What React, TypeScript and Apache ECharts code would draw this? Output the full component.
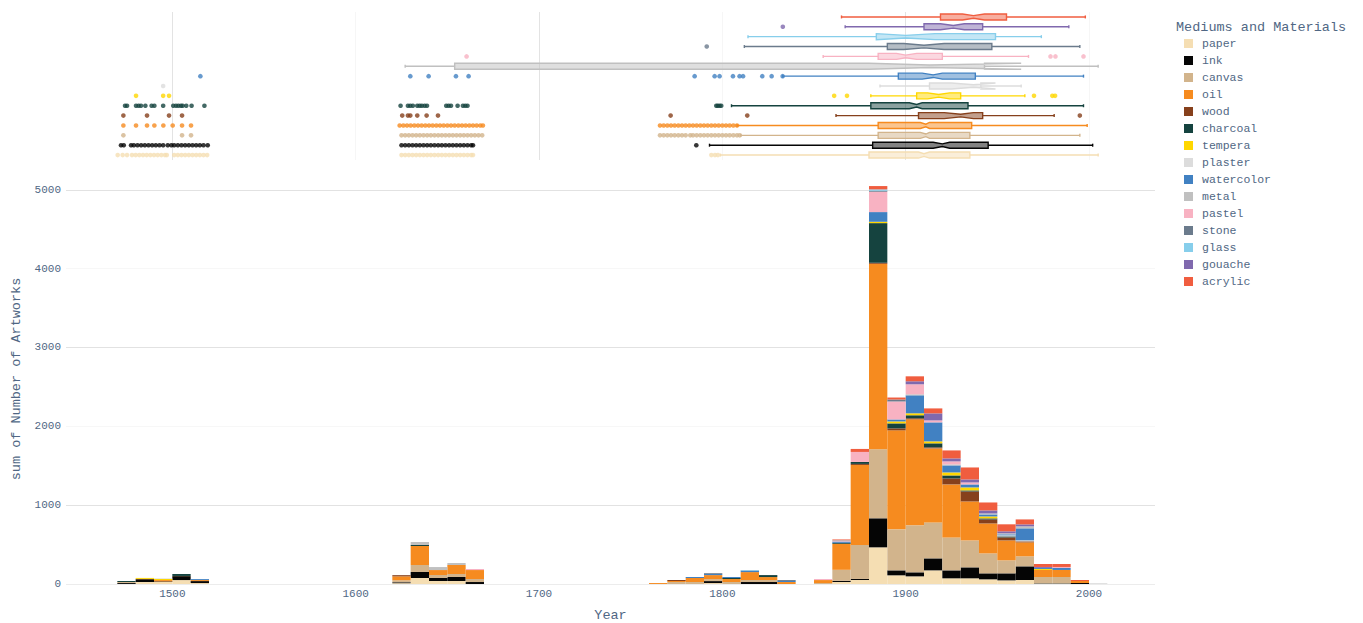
import React, { useEffect, useRef } from 'react';
import * as echarts from 'echarts';

const MEDIA = ['paper', 'ink', 'canvas', 'oil', 'wood', 'charcoal', 'tempera', 'plaster', 'watercolor', 'metal', 'pastel', 'stone', 'glass', 'gouache', 'acrylic'];
const COLORS = ['#F5DEB3', '#050505', '#D2B48C', '#F68B1F', '#86401C', '#15433F', '#FFD700', '#DCDCDC', '#4181C2', '#C0C0C0', '#F8B2C2', '#6B7B8C', '#87CEEB', '#8069AE', '#F05D3F'];

const BIN_WIDTH = 10;
const BIN_STARTS = [1470, 1480, 1490, 1500, 1510, 1620, 1630, 1640, 1650, 1660, 1760, 1770, 1780, 1790, 1800, 1810, 1820, 1830, 1850, 1860, 1870, 1880, 1890, 1900, 1910, 1920, 1930, 1940, 1950, 1960, 1970, 1980, 1990, 2000];

const paper = [0, 25, 25, 50, 12, 10, 76, 38, 38, 0, 0, 0, 0, 12, 0, 0, 0, 0, 0, 25, 51, 465, 110, 97, 173, 72, 72, 59, 46, 51, 8, 8, 0, 0];
const ink = [12, 36, 8, 50, 25, 12, 76, 38, 51, 25, 0, 0, 0, 25, 0, 25, 25, 0, 0, 15, 13, 368, 63, 51, 152, 101, 139, 76, 89, 173, 5, 5, 13, 0];
const canvas = [13, 0, 0, 0, 0, 25, 89, 38, 38, 38, 0, 25, 25, 25, 25, 25, 25, 0, 12, 140, 431, 876, 520, 596, 456, 418, 342, 253, 165, 127, 76, 76, 0, 0];
const oil = [0, 4, 17, 2, 13, 50, 241, 63, 114, 114, 12, 13, 51, 51, 38, 101, 38, 25, 38, 330, 1015, 2352, 1256, 1345, 939, 672, 494, 380, 253, 177, 89, 89, 25, 0];
const wood = [0, 0, 0, 0, 0, 15, 0, 0, 0, 0, 0, 13, 0, 0, 0, 0, 0, 0, 0, 0, 13, 13, 25, 13, 13, 76, 127, 51, 38, 13, 0, 0, 0, 0];
const charcoal = [13, 0, 0, 25, 0, 0, 13, 0, 0, 0, 0, 0, 0, 0, 13, 0, 25, 0, 0, 12, 25, 503, 63, 38, 51, 38, 13, 13, 13, 0, 0, 0, 0, 0];
const tempera = [0, 12, 14, 0, 0, 0, 0, 0, 0, 0, 0, 0, 0, 0, 0, 0, 0, 0, 0, 0, 0, 17, 25, 25, 25, 38, 38, 25, 0, 0, 13, 0, 0, 0];
const plaster = [0, 0, 8, 0, 0, 0, 0, 0, 0, 0, 0, 0, 0, 0, 0, 0, 0, 0, 0, 0, 0, 0, 0, 0, 0, 0, 0, 0, 13, 13, 0, 0, 0, 0];
const watercolor = [0, 0, 0, 0, 12, 0, 0, 0, 0, 0, 0, 0, 13, 15, 13, 20, 0, 13, 0, 17, 0, 123, 25, 228, 241, 89, 38, 25, 13, 152, 13, 25, 0, 0];
const metal = [0, 0, 0, 0, 0, 0, 38, 38, 25, 0, 0, 0, 0, 0, 0, 0, 0, 0, 0, 0, 0, 0, 0, 13, 0, 13, 0, 13, 13, 25, 0, 0, 0, 6];
const pastel = [0, 0, 0, 0, 0, 0, 0, 0, 0, 13, 0, 0, 0, 0, 0, 0, 0, 0, 13, 6, 127, 258, 228, 127, 25, 38, 25, 0, 0, 0, 0, 13, 0, 0];
const stone = [0, 0, 0, 0, 0, 0, 0, 0, 0, 0, 0, 0, 0, 10, 0, 0, 0, 12, 0, 0, 0, 13, 25, 0, 0, 0, 0, 0, 0, 0, 0, 0, 0, 0];
const glass = [0, 0, 0, 0, 0, 0, 0, 0, 0, 0, 0, 0, 0, 0, 0, 6, 0, 0, 0, 8, 0, 17, 0, 0, 0, 0, 0, 0, 0, 0, 0, 0, 0, 0];
const gouache = [0, 0, 0, 0, 0, 0, 0, 0, 0, 0, 0, 0, 0, 0, 0, 0, 0, 0, 0, 0, 0, 0, 0, 38, 89, 38, 38, 38, 25, 25, 12, 0, 0, 0];
const acrylic = [0, 0, 0, 0, 0, 0, 0, 0, 0, 0, 0, 0, 0, 0, 0, 0, 0, 0, 0, 12, 38, 42, 25, 63, 63, 101, 152, 101, 89, 63, 38, 38, 13, 0];
const COUNTS = [paper, ink, canvas, oil, wood, charcoal, tempera, plaster, watercolor, metal, pastel, stone, glass, gouache, acrylic];

// box stats: [min, q1, median, q3, max, notchLow, notchHigh]
const paperBox = [1799, 1880, 1910, 1935, 2005, 1907, 1913];
const inkBox = [1793, 1882, 1920, 1945, 2002, 1915, 1924];
const canvasBox = [1810, 1885, 1911, 1935, 1995, 1908, 1913];
const oilBox = [1808, 1885, 1911, 1936, 1999, 1908, 1913];
const woodBox = [1862, 1907, 1930, 1942, 1981, 1921, 1937];
const charcoalBox = [1805, 1881, 1906, 1934, 1997, 1902, 1909];
const temperaBox = [1881, 1906, 1918, 1930, 1965, 1912, 1924];
const plasterBox = [1886, 1913, 1937, 1941, 1963, 1925, 1949];
const watercolorBox = [1833, 1896, 1915, 1938, 1997, 1909, 1920];
const metalBox = [1627, 1654, 1913, 1943, 2005, 1880, 1963];
const pastelBox = [1855, 1885, 1900, 1920, 1967, 1895, 1906];
const stoneBox = [1812, 1890, 1910, 1947, 1995, 1899, 1921];
const glassBox = [1814, 1884, 1900, 1949, 1974, 1884, 1916];
const gouacheBox = [1867, 1910, 1926, 1942, 1989, 1919, 1932];
const acrylicBox = [1865, 1919, 1937, 1955, 1998, 1931, 1943];
const BOXES = [paperBox, inkBox, canvasBox, oilBox, woodBox, charcoalBox, temperaBox, plasterBox, watercolorBox, metalBox, pastelBox, stoneBox, glassBox, gouacheBox, acrylicBox];

// outliers (years)
const paperOut = [1470.2, 1472.9, 1475.3, 1478, 1480, 1482, 1484, 1486, 1488, 1490, 1492, 1494, 1496, 1497, 1501, 1503, 1505, 1507, 1509, 1511, 1513, 1515, 1517, 1519, 1625, 1627, 1629, 1631, 1633, 1635, 1637, 1639, 1641, 1643, 1645, 1647, 1649, 1651, 1653, 1655, 1657, 1659, 1661, 1663, 1664, 1794, 1796, 1797.6];
const inkOut = [1472, 1473.5, 1477.5, 1479, 1481, 1483, 1485, 1487, 1489, 1491, 1493, 1495, 1497.5, 1499.5, 1501, 1503, 1505, 1507, 1509, 1511, 1513, 1515, 1517, 1519.3, 1625, 1627, 1629, 1631, 1633, 1635, 1637, 1639, 1641, 1643, 1645, 1647, 1649, 1651, 1653, 1655, 1657, 1659, 1661, 1663, 1664, 1785.8];
const canvasOut = [1473.3, 1505.3, 1510.2, 1625, 1627, 1629, 1631, 1633, 1635, 1637, 1639, 1641, 1643, 1645, 1647, 1649, 1651, 1653, 1655, 1657, 1659, 1661, 1663, 1665, 1667, 1669, 1766, 1768, 1770, 1772, 1774, 1776, 1778, 1780, 1782.5, 1784, 1786, 1788, 1790, 1792, 1794, 1796, 1798, 1800, 1802, 1804, 1806, 1808, 1809.5];
const oilOut = [1473.3, 1480.2, 1486.2, 1490.2, 1495.1, 1500.2, 1505.3, 1510.2, 1624, 1626, 1628, 1630, 1632, 1634, 1636, 1638, 1640, 1642, 1644, 1646, 1648, 1650, 1652, 1654, 1656, 1658, 1660, 1662, 1664, 1666, 1668, 1669.4, 1766, 1768, 1770, 1772, 1774, 1776, 1778, 1780, 1782, 1784, 1786, 1788, 1790, 1792, 1794, 1796, 1798, 1800, 1802, 1804, 1806, 1808];
const woodOut = [1473.3, 1486.2, 1498.2, 1505.3, 1625.4, 1628.5, 1629.8, 1633.6, 1638.7, 1644.9, 1771.8, 1813.6, 1995];
const charcoalOut = [1474.2, 1475.3, 1480.2, 1481.6, 1482.9, 1485.3, 1488.7, 1490.2, 1495, 1500.5, 1502, 1503.3, 1504.7, 1505.6, 1507.6, 1510.5, 1517.5, 1624.5, 1628.5, 1629.8, 1631.2, 1633.6, 1634.9, 1636.1, 1637.6, 1638.9, 1649.4, 1650.7, 1652, 1655.6, 1658.5, 1659.8, 1661, 1796.7, 1797.5, 1798.5, 1799.4];
const temperaOut = [1480.2, 1495, 1498.2, 1861, 1868, 1970, 1980, 1981.5];
const plasterOut = [1495];
const watercolorOut = [1515.3, 1629.8, 1639.8, 1654.7, 1661.6, 1784.9, 1795.8, 1798.5, 1805.8, 1809.4, 1811.3, 1821.8, 1826.9, 1832.9];
const metalOut: number[] = [];
const pastelOut = [1660.5, 1979, 1981.7, 1997];
const stoneOut = [1791.5];
const glassOut: number[] = [];
const gouacheOut = [1833];
const acrylicOut: number[] = [];
const OUTLIERS = [paperOut, inkOut, canvasOut, oilOut, woodOut, charcoalOut, temperaOut, plasterOut, watercolorOut, metalOut, pastelOut, stoneOut, glassOut, gouacheOut, acrylicOut];

const Y_TICKS_MAX = 5200;
const X_MIN = 1442;
const X_MAX = 2036;
const X_LABELS = [1500, 1600, 1700, 1800, 1900, 2000];

const FONT = "'Courier New', 'Liberation Mono', monospace";
const TXT = '#506784';

function hexToRgba(hex: string, a: number) {
  const n = parseInt(hex.slice(1), 16);
  return `rgba(${(n >> 16) & 255},${(n >> 8) & 255},${n & 255},${a})`;
}

function buildOption() {
  const series: any[] = [];
  const bases = BIN_STARTS.map(() => 0);
  MEDIA.forEach((name, m) => {
    const data: number[][] = [];
    COUNTS[m].forEach((v, i) => {
      if (v > 0) {
        data.push([BIN_STARTS[i], bases[i] + v, bases[i]]);
        bases[i] += v;
      }
    });
    series.push({
      type: 'custom',
      name,
      xAxisIndex: 0,
      yAxisIndex: 0,
      itemStyle: { color: COLORS[m] },
      encode: { x: 0, y: [1, 2] },
      data,
      renderItem: (params: any, api: any) => {
        const x0 = api.value(0);
        const top = api.value(1);
        const base = api.value(2);
        const p0 = api.coord([x0, top]);
        const p1 = api.coord([x0 + BIN_WIDTH, base]);
        return {
          type: 'rect',
          shape: { x: p0[0], y: p0[1], width: p1[0] - p0[0], height: p1[1] - p0[1] },
          style: { fill: COLORS[m] },
        };
      },
    });
  });

  const boxData = BOXES.map((b, m) => [b[0], m, b[1], b[2], b[3], b[4], b[5], b[6]]);
  series.push({
    type: 'custom',
    name: 'boxes',
    xAxisIndex: 1,
    yAxisIndex: 1,
    encode: { x: [0, 2, 3, 4, 5], y: 1 },
    data: boxData,
    renderItem: (params: any, api: any) => {
      const cat = api.value(1);
      const m = params.dataIndex;
      const col = COLORS[m];
      const c = (v: number) => api.coord([v, cat]);
      const pMin = c(api.value(0));
      const pQ1 = c(api.value(2));
      const pMed = c(api.value(3));
      const pQ3 = c(api.value(4));
      const pMax = c(api.value(5));
      const pNl = c(api.value(6));
      const pNh = c(api.value(7));
      const y = pMed[1];
      const h = 3;
      const inset = 1.7;
      const lw = 1.4;
      return {
        type: 'group',
        children: [
          { type: 'line', shape: { x1: pMin[0], y1: y, x2: pQ1[0], y2: y }, style: { stroke: col, lineWidth: lw } },
          { type: 'line', shape: { x1: pQ3[0], y1: y, x2: pMax[0], y2: y }, style: { stroke: col, lineWidth: lw } },
          { type: 'line', shape: { x1: pMin[0], y1: y - 1.5, x2: pMin[0], y2: y + 1.5 }, style: { stroke: col, lineWidth: lw } },
          { type: 'line', shape: { x1: pMax[0], y1: y - 1.5, x2: pMax[0], y2: y + 1.5 }, style: { stroke: col, lineWidth: lw } },
          {
            type: 'polygon',
            shape: {
              points: [
                [pQ1[0], y - h], [pNl[0], y - h], [pMed[0], y - h + inset], [pNh[0], y - h], [pQ3[0], y - h],
                [pQ3[0], y + h], [pNh[0], y + h], [pMed[0], y + h - inset], [pNl[0], y + h], [pQ1[0], y + h],
              ],
            },
            style: { fill: hexToRgba(col, 0.5), stroke: col, lineWidth: lw },
          },
        ],
      };
    },
  });

  const outData: any[] = [];
  OUTLIERS.forEach((arr, m) => {
    arr.forEach((yr) => {
      outData.push({ value: [yr, m], itemStyle: { color: COLORS[m] } });
    });
  });
  series.push({
    type: 'scatter',
    name: 'outliers',
    xAxisIndex: 1,
    yAxisIndex: 1,
    symbol: 'circle',
    symbolSize: 4.6,
    data: outData,
    silent: true,
    markLine: {
      silent: true,
      symbol: ['none', 'none'],
      label: { show: false },
      z: 0,
      data: X_LABELS.map((v, i) => ({
        xAxis: v,
        lineStyle: { color: i % 2 === 0 ? '#e3e3e3' : '#f6f6f6', width: 1, type: 'solid' },
      })),
    },
  });

  return {
    animation: false,
    backgroundColor: '#ffffff',
    title: {
      text: 'Mediums and Materials',
      left: 1176,
      top: 20,
      padding: 0,
      textStyle: { fontFamily: FONT, fontSize: 13.5, fontWeight: 'normal', color: TXT },
    },
    legend: {
      data: MEDIA.map((name) => ({ name, icon: 'rect' })),
      orient: 'vertical',
      left: 1184,
      top: 37,
      padding: 0,
      itemWidth: 9,
      itemHeight: 9,
      itemGap: 4,
      selectedMode: false,
      textStyle: { fontFamily: FONT, fontSize: 11.5, lineHeight: 13, color: TXT, padding: [0, 0, 0, 4] },
    },
    grid: [
      { left: 66, right: 208, top: 174, bottom: 39, outerBoundsMode: 'none', containLabel: false },
      { left: 66, right: 208, top: 12, height: 148, outerBoundsMode: 'none', containLabel: false },
    ],
    xAxis: [
      {
        type: 'value',
        gridIndex: 0,
        min: X_MIN,
        max: X_MAX,
        name: 'Year',
        nameLocation: 'middle',
        nameGap: 24,
        nameTextStyle: { fontFamily: FONT, fontSize: 13.5, color: TXT },
        axisLine: { show: false },
        axisTick: { show: false },
        splitLine: { show: false },
        axisLabel: {
          customValues: X_LABELS,
          fontFamily: FONT,
          fontSize: 11,
          color: TXT,
          margin: 4,
          formatter: (v: number) => String(v),
        },
      },
      {
        type: 'value',
        gridIndex: 1,
        min: X_MIN,
        max: X_MAX,
        show: false,
        splitLine: { show: false },
      },
    ],
    yAxis: [
      {
        type: 'value',
        gridIndex: 0,
        min: 0,
        max: Y_TICKS_MAX,
        interval: 1000,
        name: 'sum of Number of Artworks',
        nameLocation: 'middle',
        nameGap: 43,
        nameTextStyle: { fontFamily: FONT, fontSize: 13.5, color: TXT },
        axisLine: { show: false },
        axisTick: { show: false },
        axisLabel: {
          fontFamily: FONT,
          fontSize: 11,
          color: TXT,
          margin: 5,
          formatter: (v: number) => (v % 1000 === 0 ? String(v) : ''),
        },
        splitLine: {
          show: true,
          showMaxLine: false,
          lineStyle: { color: ['#ececec', '#e2e2e2', '#f7f7f7', '#e2e2e2', '#f7f7f7', '#e2e2e2', '#ffffff'], width: 1 },
        },
      },
      {
        type: 'category',
        gridIndex: 1,
        data: MEDIA,
        show: false,
        splitLine: { show: false },
      },
    ],
    series,
  };
}

export default function App() {
  const ref = useRef<HTMLDivElement>(null);
  useEffect(() => {
    document.body.style.margin = '0';
    if (!ref.current) return;
    const chart = echarts.init(ref.current, undefined, { renderer: 'svg' });
    chart.setOption(buildOption() as any);
    return () => chart.dispose();
  }, []);
  return <div ref={ref} style={{ width: 1363, height: 623 }} />;
}
